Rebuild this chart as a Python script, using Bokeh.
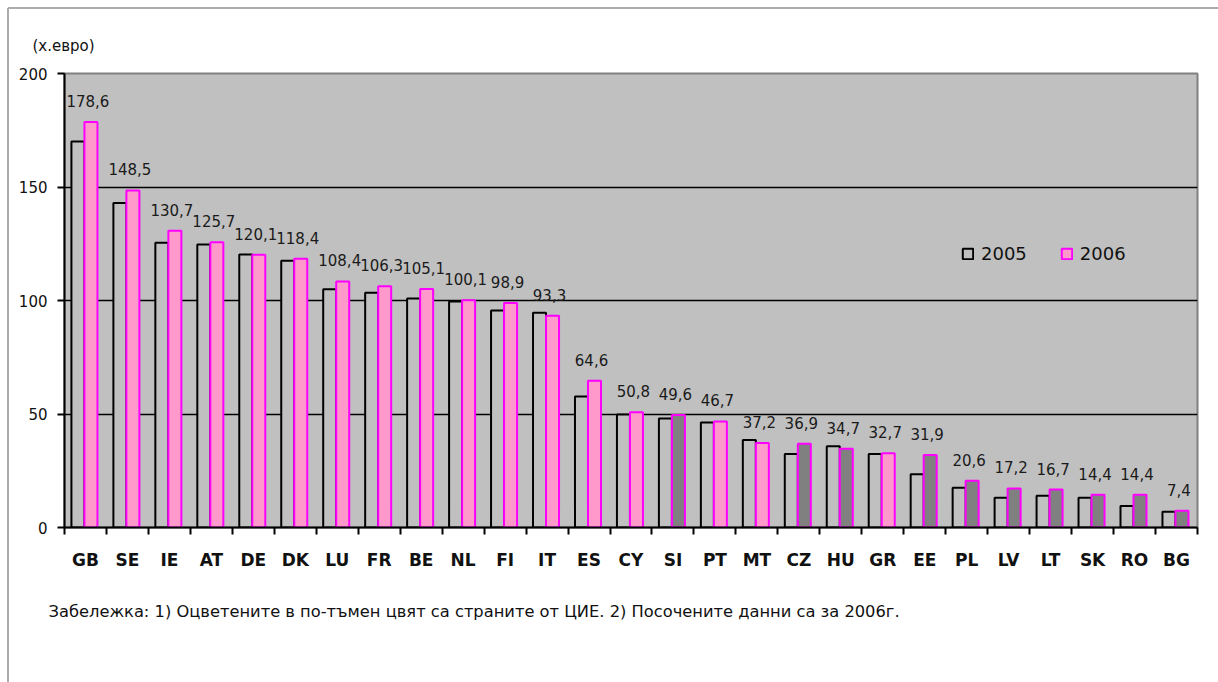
from bokeh.plotting import figure
from bokeh.models import (FixedTicker, Title, Legend, LegendItem, ColumnDataSource)
from bokeh.core.properties import value
from bokeh.embed import file_html
from bokeh.resources import INLINE

countries = ["GB", "SE", "IE", "AT", "DE", "DK", "LU", "FR", "BE", "NL", "FI", "IT", "ES",
             "CY", "SI", "PT", "MT", "CZ", "HU", "GR", "EE", "PL", "LV", "LT", "SK", "RO", "BG"]
v2005 = [170.0, 142.9, 125.4, 124.7, 120.3, 117.5, 105.0, 103.4, 100.9, 99.6, 95.6, 94.6, 57.7,
         49.8, 48.0, 46.3, 38.5, 32.4, 35.8, 32.4, 23.5, 17.5, 13.1, 14.0, 13.1, 9.5, 6.9]
v2006 = [178.6, 148.5, 130.7, 125.7, 120.1, 118.4, 108.4, 106.3, 105.1, 100.1, 98.9, 93.3, 64.6,
         50.8, 49.6, 46.7, 37.2, 36.9, 34.7, 32.7, 31.9, 20.6, 17.2, 16.7, 14.4, 14.4, 7.4]
labels2006 = ["178,6", "148,5", "130,7", "125,7", "120,1", "118,4", "108,4", "106,3", "105,1",
              "100,1", "98,9", "93,3", "64,6", "50,8", "49,6", "46,7", "37,2", "36,9", "34,7",
              "32,7", "31,9", "20,6", "17,2", "16,7", "14,4", "14,4", "7,4"]
cee = [False, False, False, False, False, False, False, False, False, False, False, False, False,
       False, True, False, False, True, True, False, True, True, True, True, True, True, True]
y_ticks = [0, 50, 100, 150, 200]
series_names = ["2005", "2006"]
y_unit = "(х.евро)"
footnote = ("Забележка: 1) Оцветените в по-тъмен цвят са страните от ЦИЕ. "
            "2) Посочените данни са за 2006г.")

FONT = "DejaVu Sans"
PINK = "#FF99CC"
DARK = "#808080"
MAGENTA = "#FF00FF"
BG = "#C0C0C0"

idx = list(range(len(countries)))
src = ColumnDataSource(dict(
    x05=[i - 0.18 for i in idx],
    x06=[i + 0.13 for i in idx],
    v05=v2005,
    v06=v2006,
    lab=labels2006,
    c06=[DARK if c else PINK for c in cee],
))

p = figure(width=1218, height=682, output_backend="svg", toolbar_location=None,
           x_range=(-0.5, len(countries) - 0.5), y_range=(0, 200),
           min_border_left=64, min_border_right=21, min_border_top=73, min_border_bottom=155)
p.border_fill_color = None
p.background_fill_color = BG
p.outline_line_color = DARK
p.outline_line_width = 2
p.styles = {"background": ("linear-gradient(#ababab, #ababab) 8px 7px / 100% 2px no-repeat, "
                           "linear-gradient(#ababab, #ababab) 7px 8px / 2px 100% no-repeat, white")}

r05 = p.vbar(x="x05", top="v05", width=0.31, source=src, fill_color=BG,
             line_color="black", line_width=2)
r06 = p.vbar(x="x06", top="v06", width=0.31, source=src, fill_color="c06",
             line_color=MAGENTA, line_width=2)

p.text(x="x06", y="v06", text="lab", source=src, x_offset=-3, y_offset=-21,
       text_align="center", text_baseline="alphabetic",
       text_font=value(FONT), text_font_size="15px", text_color="#1a1a1a")

# grid
p.xgrid.visible = False
p.ygrid.ticker = FixedTicker(ticks=[50, 100, 150])
p.ygrid.grid_line_color = "black"
p.ygrid.grid_line_width = 1.5

# y axis
p.yaxis.ticker = FixedTicker(ticks=y_ticks)
p.yaxis.axis_line_color = "black"
p.yaxis.axis_line_width = 2
p.yaxis.major_tick_line_color = "black"
p.yaxis.major_tick_line_width = 2
p.yaxis.major_tick_out = 7
p.yaxis.major_tick_in = 0
p.yaxis.minor_tick_line_color = None
p.yaxis.major_label_standoff = 10
p.yaxis.major_label_text_font = FONT
p.yaxis.major_label_text_font_size = "15px"
p.yaxis.major_label_text_color = "#111111"

# x axis: labels at centers, ticks at category boundaries
p.xaxis.ticker = FixedTicker(ticks=idx, minor_ticks=[i - 0.5 for i in idx] + [len(idx) - 0.5])
p.xaxis.major_label_overrides = {i: c for i, c in zip(idx, countries)}
p.xaxis.axis_line_color = "black"
p.xaxis.axis_line_width = 2
p.xaxis.major_tick_line_color = None
p.xaxis.major_tick_out = 0
p.xaxis.major_tick_in = 0
p.xaxis.minor_tick_line_color = "black"
p.xaxis.minor_tick_line_width = 2
p.xaxis.minor_tick_out = 7
p.xaxis.minor_tick_in = 0
p.xaxis.major_label_standoff = 15
p.xaxis.major_label_text_font = FONT
p.xaxis.major_label_text_font_size = "17px"
p.xaxis.major_label_text_font_style = "bold"
p.xaxis.major_label_text_color = "#111111"

# legend
legend = Legend(items=[LegendItem(label=series_names[0], renderers=[r05]),
                       LegendItem(label=series_names[1], renderers=[r06])],
                location=(897, 263), orientation="horizontal",
                glyph_width=13, glyph_height=13, label_standoff=7, spacing=33,
                padding=0, margin=0, border_line_color=None,
                background_fill_alpha=0, label_text_font=FONT,
                label_text_font_size="18px", label_text_color="#111111")
p.add_layout(legend)

# unit above the axis, footnote below the chart
p.add_layout(Title(text=y_unit, align="left", offset=-32, standoff=37,
                   text_font=FONT, text_font_size="15px", text_font_style="normal",
                   text_color="#111111"), "above")
p.add_layout(Title(text=footnote, align="left", offset=-16, standoff=55,
                   text_font=FONT, text_font_size="16.3px", text_font_style="normal",
                   text_color="#111111"), "below")

open("out.html", "w").write(file_html(p, INLINE))
